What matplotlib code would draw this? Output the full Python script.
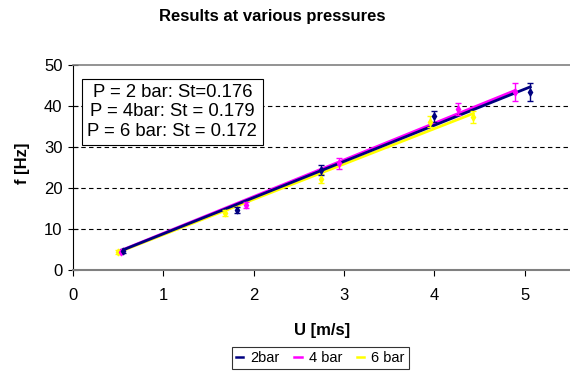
import numpy as np
import matplotlib.pyplot as plt
from matplotlib.lines import Line2D

plt.rcParams['font.family'] = ['Liberation Sans', 'DejaVu Sans']

# velocity [m/s], frequency [Hz], error [Hz]
u_2bar = [0.55, 1.81, 2.75, 4.00, 5.06]
f_2bar = [4.6, 14.6, 24.4, 37.5, 43.4]
e_2bar = [0.5, 0.7, 1.2, 1.4, 2.2]

u_4bar = [0.53, 1.91, 2.94, 4.26, 4.89]
f_4bar = [4.5, 15.8, 26.0, 39.3, 43.5]
e_4bar = [0.4, 0.7, 1.3, 1.5, 2.2]

u_6bar = [0.50, 1.68, 2.74, 3.95, 4.43]
f_6bar = [4.4, 13.9, 22.3, 36.2, 37.3]
e_6bar = [0.4, 0.7, 1.0, 1.4, 1.4]

labels = ["2bar", "4 bar", "6 bar"]
colors = ["#000080", "#FF00FF", "#FFFF00"]
st_text = "P = 2 bar: St=0.176\nP = 4bar: St = 0.179\nP = 6 bar: St = 0.172"

fig = plt.figure(figsize=(5.7, 3.76), dpi=100)
ax = fig.add_axes([0.128, 0.282, 0.872, 0.545])

series = [(u_6bar, f_6bar, e_6bar, colors[2]),
          (u_4bar, f_4bar, e_4bar, colors[1]),
          (u_2bar, f_2bar, e_2bar, colors[0])]

for u, f, e, c in series:
    u = np.array(u)
    f = np.array(f)
    # trendline through origin
    k = np.sum(u * f) / np.sum(u * u)
    xx = np.array([u.min(), u.max()])
    ax.plot(xx, k * xx, color=c, lw=2, zorder=3)
    ax.errorbar(u, f, yerr=e, fmt='d', ms=3.5, color=c, ecolor=c,
                elinewidth=1, capsize=2.5, capthick=1, zorder=4)

ax.set_xlim(0, 5.5)
ax.set_ylim(0, 50)
ax.set_xticks([0, 1, 2, 3, 4, 5])
ax.set_yticks([0, 10, 20, 30, 40, 50])
for yv in [10, 20, 30, 40]:
    ax.axhline(yv, color='black', lw=0.8, dashes=(4, 3), zorder=1)

ax.spines['right'].set_visible(False)
ax.spines['top'].set_color('#808080')
ax.spines['top'].set_linewidth(1.2)
ax.spines['bottom'].set_color('#808080')
ax.spines['bottom'].set_linewidth(1.5)
ax.spines['left'].set_color('black')
ax.tick_params(axis='x', labelsize=12, length=4, direction='out', pad=9)
ax.tick_params(axis='y', labelsize=12, length=7, direction='inout', pad=4)

fig.text(0.565, 0.122, "U [m/s]", fontsize=12, fontweight='bold',
         ha='center', va='center')
fig.text(0.039, 0.566, "f [Hz]", fontsize=12, fontweight='bold',
         ha='center', va='center', rotation=90)
fig.text(0.478, 0.957, "Results at various pressures", fontsize=12,
         fontweight='bold', ha='center', va='center')

ax.text(0.2, 0.771, st_text, transform=ax.transAxes, ha='center', va='center',
        fontsize=13.3, linespacing=1.18, zorder=5,
        bbox=dict(boxstyle='square,pad=0.3', fc='white', ec='black', lw=0.8))

handles = [Line2D([0], [0], color=c, lw=1.8) for c in colors]
fig.legend(handles, labels, loc='center', bbox_to_anchor=(0.562, 0.048), ncol=3,
           fontsize=10.5, frameon=True, fancybox=False, edgecolor='black',
           handlelength=0.5, handletextpad=0.5, columnspacing=1.0,
           borderpad=0.3).get_frame().set_linewidth(0.8)

fig.savefig("out.png", dpi=100)
